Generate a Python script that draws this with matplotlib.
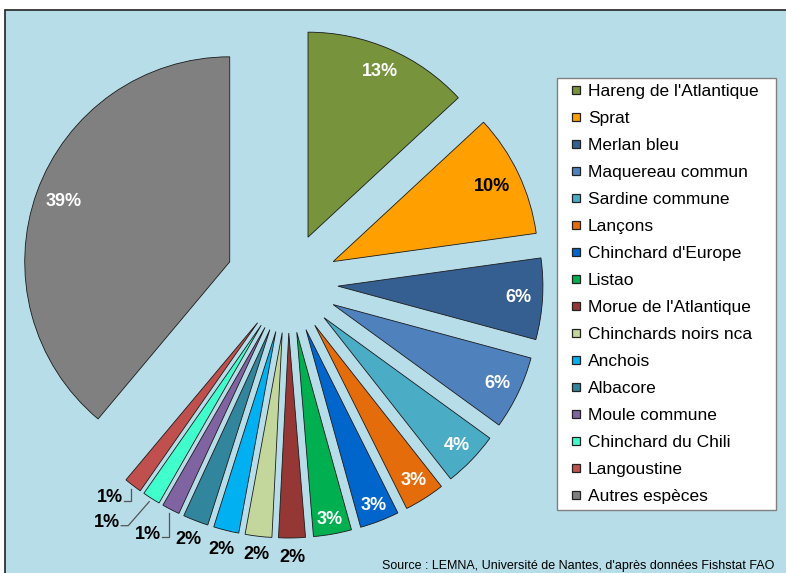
import numpy as np
import matplotlib.pyplot as plt
from matplotlib.patches import Rectangle
from matplotlib.legend_handler import HandlerPatch

plt.rcParams['font.family'] = ['Liberation Sans', 'DejaVu Sans']

# part des captures par espece (%)
species = ["Hareng de l'Atlantique", "Sprat", "Merlan bleu", "Maquereau commun",
           "Sardine commune", "Lançons", "Chinchard d'Europe", "Listao",
           "Morue de l'Atlantique", "Chinchards noirs nca", "Anchois", "Albacore",
           "Moule commune", "Chinchard du Chili", "Langoustine", "Autres espèces"]
shares = [13.1, 9.7, 6.4, 5.8, 4.4, 3.2, 3.1, 3.0, 2.1, 2.1, 2.0, 2.0, 1.4, 1.4, 1.4, 38.9]
colors = ["#77933C", "#FFA000", "#365F91", "#4F81BD", "#4BACC6", "#E46C0A",
          "#0066CC", "#00B050", "#953735", "#C3D69B", "#00B0F0", "#31859C",
          "#8064A2", "#40FFCC", "#C0504D", "#808080"]
source = "Source : LEMNA, Université de Nantes, d'après données Fishstat FAO"

W, H = 786, 573
fig = plt.figure(figsize=(W / 100, H / 100), dpi=100)
ax = fig.add_axes([0, 0, 1, 1])


def Y(y):
    # pixel rows are counted from the top
    return H - y


# chart area
ax.add_patch(Rectangle((5, Y(H + 20)), W + 20, H + 10, facecolor="#B7DDE8",
                       edgecolor="#222222", linewidth=1.2, zorder=0))

R = 205
cx, cy = 288, Y(283)
# explode offsets are in data units (pixels here)
explode = [50] * (len(shares) - 1) + [62]
wedges, _ = ax.pie(shares, colors=colors, explode=explode, startangle=90,
                   counterclock=False, radius=R, center=(cx, cy),
                   wedgeprops=dict(edgecolor="#1a1a1a", linewidth=0.6))
ax.set_xlim(0, W)
ax.set_ylim(0, H)
ax.set_aspect("auto")
ax.axis("off")

total = sum(shares)
# radial position of each label (fraction of radius) and its colour
label_r = [0.88, 0.86, 0.88, 0.89, 0.90, 0.90, 0.92, 0.93,
           1.095, 1.09, 1.095, 1.10, None, None, None, 0.86]
label_c = ["white", "black"] + ["white"] * 6 + ["black"] * 7 + ["white"]
# small slices: elbow of the leader line relative to the wedge edge
leaders = {12: (0, 24), 13: (-21, 24), 14: (0, 12)}

for i, (w, v) in enumerate(zip(wedges, shares)):
    mid = np.deg2rad((w.theta1 + w.theta2) / 2)
    ux, uy = np.cos(mid), np.sin(mid)
    tx, ty = w.center
    pct = f"{round(100 * v / total):.0f}%"
    if label_r[i] is not None:
        ax.text(tx + label_r[i] * R * ux, ty + label_r[i] * R * uy, pct,
                ha="center", va="center", fontsize=13, fontweight="bold",
                color=label_c[i])
    else:
        ax0 = tx + (R + 4) * ux
        ay0 = ty + (R + 4) * uy
        ex, ey = leaders[i]
        ex, ey = ax0 + ex, ay0 - ey
        ax.plot([ax0, ex, ex - 7], [ay0, ey, ey], color="#555555",
                linewidth=0.9, zorder=3)
        ax.text(ex - 8, ey + 3, pct, ha="right", va="center", fontsize=13,
                fontweight="bold", color="black")


def small_square(legend, orig_handle, xdescent, ydescent, width, height, fontsize):
    # 8 px square sitting at the right of the handle box
    s = 8 * 72 / 100
    return Rectangle((width - s - xdescent, (height - s) / 2 - ydescent), s, s)


leg = ax.legend(wedges, species, loc="upper left",
                bbox_to_anchor=(557 / W, 1 - 78 / H - 0.1, 219 / W, 0.1),
                bbox_transform=fig.transFigure, mode="expand",
                fontsize=12.5, frameon=True, fancybox=False, framealpha=1,
                handlelength=1.0, handleheight=0.5, handletextpad=0.44,
                labelspacing=0.69, borderpad=0.35, borderaxespad=0,
                handler_map={w: HandlerPatch(patch_func=small_square) for w in wedges})
leg.get_frame().set_edgecolor("#808080")
leg.get_frame().set_linewidth(1.0)
for h in leg.legend_handles:
    h.set_edgecolor("#222222")
    h.set_linewidth(0.9)

ax.text(382, Y(572), source, ha="left", va="bottom", fontsize=9, color="black")

fig.savefig("out.png", dpi=100)
